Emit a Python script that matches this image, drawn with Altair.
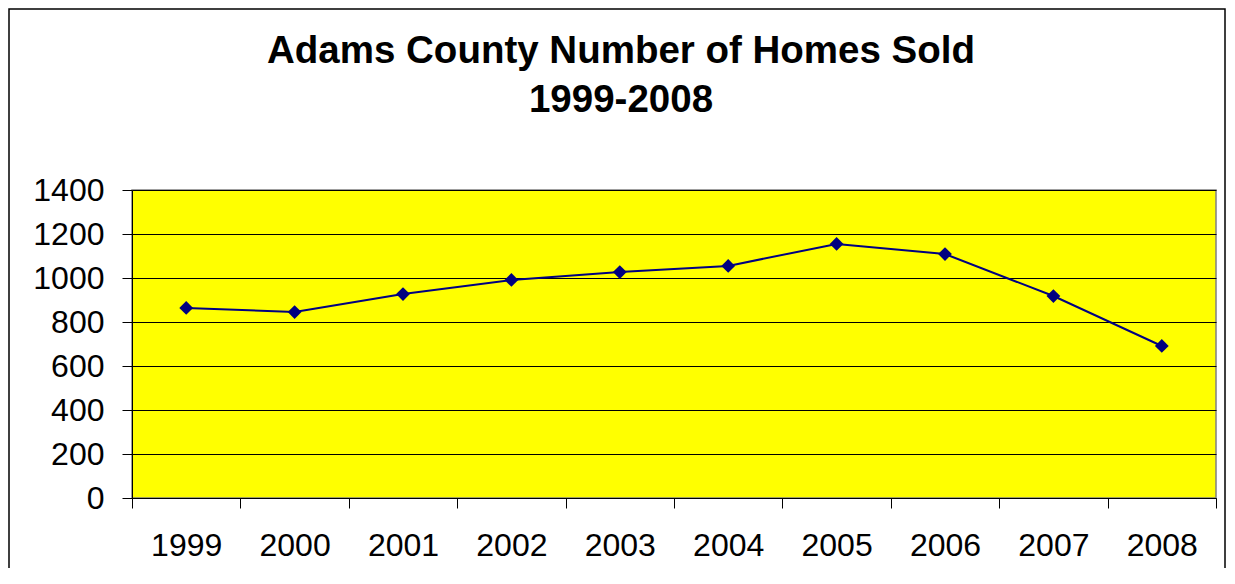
import altair as alt
import pandas as pd

years = ["1999", "2000", "2001", "2002", "2003", "2004", "2005", "2006", "2007", "2008"]
homes_sold = [864, 845, 927, 991, 1027, 1055, 1155, 1109, 918, 691]
y_ticks = [0, 200, 400, 600, 800, 1000, 1200, 1400]

df = pd.DataFrame({"year": years, "sold": homes_sold})

FONT = "Liberation Sans"

x = alt.X(
    "year:N",
    sort=years,
    scale=alt.Scale(paddingInner=0, paddingOuter=0),
    axis=alt.Axis(
        title=None,
        labelAngle=0,
        tickBand="extent",
        tickSize=10,
        tickColor="#000000",
        domainColor="#000000",
        labelFontSize=32,
        labelFont=FONT,
        labelColor="#000000",
        labelPadding=22,
        grid=False,
    ),
)
y = alt.Y(
    "sold:Q",
    scale=alt.Scale(domain=[0, 1400], nice=False),
    axis=alt.Axis(
        title=None,
        values=y_ticks,
        format="d",
        tickSize=10,
        tickColor="#000000",
        domainColor="#000000",
        gridColor="#000000",
        gridWidth=1,
        labelFontSize=32,
        labelFont=FONT,
        labelColor="#000000",
        labelPadding=18,
    ),
)

line = alt.Chart(df).mark_line(color="#000080", strokeWidth=2).encode(x=x, y=y)
points = alt.Chart(df).mark_point(
    shape="diamond", filled=True, color="#000080", size=190, opacity=1
).encode(x=x, y=y)

border = alt.Chart(alt.Data(values=[{"a": 1}])).mark_rect(
    fillOpacity=0, stroke="#000000", strokeWidth=1.5
).encode(
    x=alt.value(-123), x2=alt.value(1093), y=alt.value(-181), y2=alt.value(500)
)

chart = alt.layer(line, points, border).properties(
    width=1084,
    height=308,
    autosize="none",
    background="#FFFFFF",
    padding={"left": 124, "top": 182, "right": 11, "bottom": 70},
    title=alt.TitleParams(
        text=["Adams County Number of Homes Sold", "1999-2008"],
        font=FONT,
        fontSize=38.5,
        fontWeight="bold",
        color="#000000",
        anchor="middle",
        baseline="alphabetic",
        lineHeight=49,
        dx=-53,
        offset=-142,
    ),
).configure_view(
    fill="#FFFF00", stroke="#808080", strokeWidth=1.5
)

chart.save("out.html", embed_options={"renderer": "svg", "actions": False})
